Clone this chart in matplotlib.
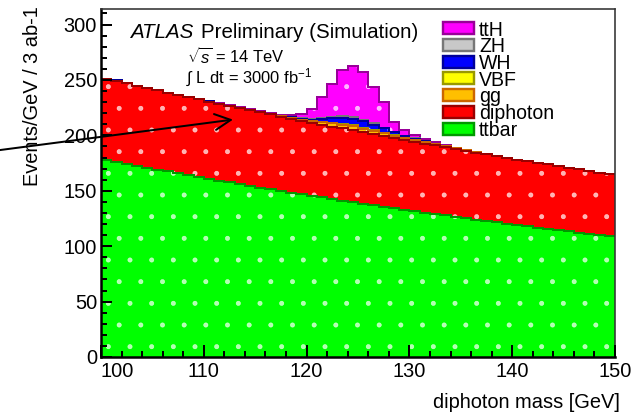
import numpy as np
import matplotlib.pyplot as plt
from matplotlib.patches import Rectangle
from matplotlib.ticker import MultipleLocator

plt.rcParams['font.family'] = ['Liberation Sans', 'DejaVu Sans']
plt.rcParams['mathtext.fontset'] = 'custom'
plt.rcParams['mathtext.rm'] = 'Liberation Sans'
plt.rcParams['mathtext.it'] = 'Liberation Sans:italic'
plt.rcParams['hatch.linewidth'] = 0.3

DPI = 130
PX = 72.0 / DPI      # one pixel in points
W, H = 633, 417

# 1 GeV bins, 100-150 GeV
mass_edges = np.arange(100, 151, 1)

ttbar = [177.7, 175.9, 174.2, 172.4, 170.7, 169.0, 167.4, 165.7, 164.0, 162.4,
         160.8, 159.2, 157.6, 156.0, 154.5, 152.9, 151.4, 149.9, 148.4, 146.9,
         145.5, 144.0, 142.6, 141.2, 139.8, 138.4, 137.0, 135.6, 134.3, 132.9,
         131.6, 130.3, 129.0, 127.7, 126.4, 125.2, 123.9, 122.7, 121.5, 120.3,
         119.1, 117.9, 116.7, 115.6, 114.4, 113.3, 112.2, 111.0, 109.9, 108.8]

diphoton = [73.3, 73.0, 72.6, 72.2, 71.9, 71.5, 71.2, 70.8, 70.4, 70.0,
            69.6, 69.3, 69.0, 68.6, 68.3, 67.9, 67.5, 67.1, 66.7, 66.4,
            66.0, 65.7, 65.3, 65.0, 64.6, 64.3, 64.0, 63.6, 63.3, 62.9,
            62.6, 62.2, 61.9, 61.5, 61.2, 60.8, 60.5, 60.1, 59.8, 59.4,
            59.1, 58.8, 58.4, 58.1, 57.8, 57.5, 57.2, 56.8, 56.5, 56.2]

gg = [0, 0, 0, 0, 0, 0, 0, 0, 0, 0,
      0, 0, 0, 0, 0, 0.2, 0.3, 0.4, 0.6, 0.8,
      1.0, 2.0, 2.8, 3.3, 3.6, 3.4, 3.0, 2.5, 2.2, 2.0,
      1.8, 1.5, 1.2, 0.9, 0.6, 0.4, 0.3, 0, 0, 0,
      0, 0, 0, 0, 0, 0, 0, 0, 0, 0]

vbf = [0, 0, 0, 0, 0, 0, 0, 0, 0, 0,
       0, 0, 0, 0, 0, 0, 0, 0, 0, 0,
       0.2, 0.3, 0.5, 0.8, 0.9, 0.8, 0.7, 0.5, 0.3, 0.2,
       0, 0, 0, 0, 0, 0, 0, 0, 0, 0,
       0, 0, 0, 0, 0, 0, 0, 0, 0, 0]

wh = [0, 0.6, 0.5, 0, 0, 0, 0, 0, 0, 0,
      0.2, 0.2, 0.2, 0.3, 0.3, 0.3, 0.4, 0.4, 0.6, 0.9,
      1.5, 3.0, 4.5, 5.5, 6.2, 5.8, 5.0, 4.0, 2.5, 1.5,
      1.0, 0.6, 0.4, 0.3, 0, 0, 0, 0, 0, 0,
      0, 0, 0, 0, 0, 0, 0, 0, 0, 0]

zh = [0, 0, 0, 0, 0, 0, 0, 0, 0, 0,
      0, 0, 0, 0, 0, 0, 0, 0, 0, 0.2,
      0.3, 0.6, 1.0, 1.3, 1.4, 1.3, 1.1, 0.8, 0.5, 0.3,
      0.2, 0, 0, 0, 0, 0, 0, 0, 0, 0,
      0, 0, 0, 0, 0, 0, 0, 0, 0, 0]

tth = [0, 0, 0, 0, 0, 0, 0, 0, 0, 0,
       0.3, 0.3, 0.4, 0.5, 0.5, 0.6, 0.8, 1.0, 1.8, 4.0,
       9.0, 19.0, 30.0, 42.0, 46.0, 43.0, 33.0, 23.0, 9.0, 5.0,
       3.5, 2.5, 1.5, 1.0, 0.8, 0.6, 0.5, 0.4, 0.3, 0.3,
       0, 0, 0, 0, 0, 0, 0, 0, 0, 0]

# stack order, bottom to top
samples = ['ttbar', 'diphoton', 'gg', 'VBF', 'WH', 'ZH', 'ttH']
fill_colors = ['#00ff00', '#ff0000', '#ffbf00', '#ffff00', '#0000ff', '#c8c8c8', '#ff00ff']
line_colors = ['#009900', '#990000', '#cc6600', '#999900', '#000099', '#777777', '#990099']

stack = np.cumsum([ttbar, diphoton, gg, vbf, wh, zh, tth], axis=0)

fig = plt.figure(figsize=(W / DPI, H / DPI), dpi=DPI)
ax = fig.add_axes([101 / W, (H - 357) / H, 514 / W, 348 / H])

# like THStack: draw the full sums from the top down so lower outlines win
z = 1
for i in range(len(samples) - 1, -1, -1):
    ax.stairs(stack[i], mass_edges, baseline=0, fill=True,
              facecolor=fill_colors[i], edgecolor=(1, 1, 1, 0.7),
              hatch='.', lw=0, zorder=z)
    ax.stairs(stack[i], mass_edges, baseline=None, color=line_colors[i],
              lw=2 * PX, zorder=z + 0.5)
    z += 1

ax.set_xlim(100, 150)
ax.set_ylim(0, 314)
ax.set_xticks(np.arange(100, 151, 10))
ax.xaxis.set_minor_locator(MultipleLocator(2))
ax.yaxis.set_major_locator(MultipleLocator(50))
ax.yaxis.set_minor_locator(MultipleLocator(10))

ax.tick_params(which='both', direction='in', top=False, right=False,
               labelsize=20 * PX, width=2 * PX, colors='black')
ax.tick_params(axis='x', which='major', length=12 * PX, pad=5 * PX)
ax.tick_params(axis='x', which='minor', length=6 * PX)
ax.tick_params(axis='y', which='major', length=11 * PX, pad=4 * PX)
ax.tick_params(axis='y', which='minor', length=6 * PX)
ax.get_xticklabels()[0].set_horizontalalignment('left')

for side in ['left', 'bottom']:
    ax.spines[side].set_linewidth(2.5 * PX)
for side in ['top', 'right']:
    ax.spines[side].set_linewidth(1.6 * PX)
    ax.spines[side].set_color('#333333')
for s in ax.spines.values():
    s.set_zorder(20)
ax.xaxis.set_zorder(20)
ax.yaxis.set_zorder(20)

ax.set_xlabel('diphoton mass [GeV]', fontsize=20 * PX, loc='right')
ax.xaxis.set_label_coords((620 - 101) / 514, (357 - 393) / 348)
ax.set_ylabel('Events/GeV / 3 ab-1', fontsize=20 * PX, loc='top')
ax.yaxis.label.set_verticalalignment('center')
ax.yaxis.set_label_coords((33 - 101) / 514, (357 - 6) / 348)

# ATLAS label block
fig.text(130 / W, 1 - 38.5 / H, 'ATLAS', fontsize=20.5 * PX, style='italic')
fig.text(201 / W, 1 - 38.5 / H, 'Preliminary (Simulation)', fontsize=20.5 * PX)
fig.text(187 / W, 1 - 64 / H, r'$\sqrt{s}$ = 14 TeV', fontsize=16.5 * PX)
fig.text(186 / W, 1 - 83.5 / H, r'$\int$ L dt = 3000 fb$^{-1}$', fontsize=16.5 * PX)

# legend, top entry first
for row, i in enumerate(range(len(samples) - 1, -1, -1)):
    yc = 28.3 + row * 16.73
    fig.add_artist(Rectangle((443 / W, 1 - (yc + 6) / H), 31 / W, 12 / H,
                             transform=fig.transFigure, facecolor=fill_colors[i],
                             edgecolor=line_colors[i], lw=2.4 * PX))
    fig.text(479 / W, 1 - (yc + 7.2) / H, samples[i], fontsize=19.5 * PX,
             va='baseline')

# pointer from the left margin into the diphoton band
ax.annotate('', xy=(112.84, 214.2), xycoords='data',
            xytext=(-5 / W, 1 - 150.7 / H), textcoords='figure fraction',
            arrowprops=dict(arrowstyle='->', lw=2 * PX, color='black',
                            mutation_scale=22, shrinkA=0, shrinkB=0),
            annotation_clip=False, zorder=30)

fig.savefig('out.png', dpi=DPI)
